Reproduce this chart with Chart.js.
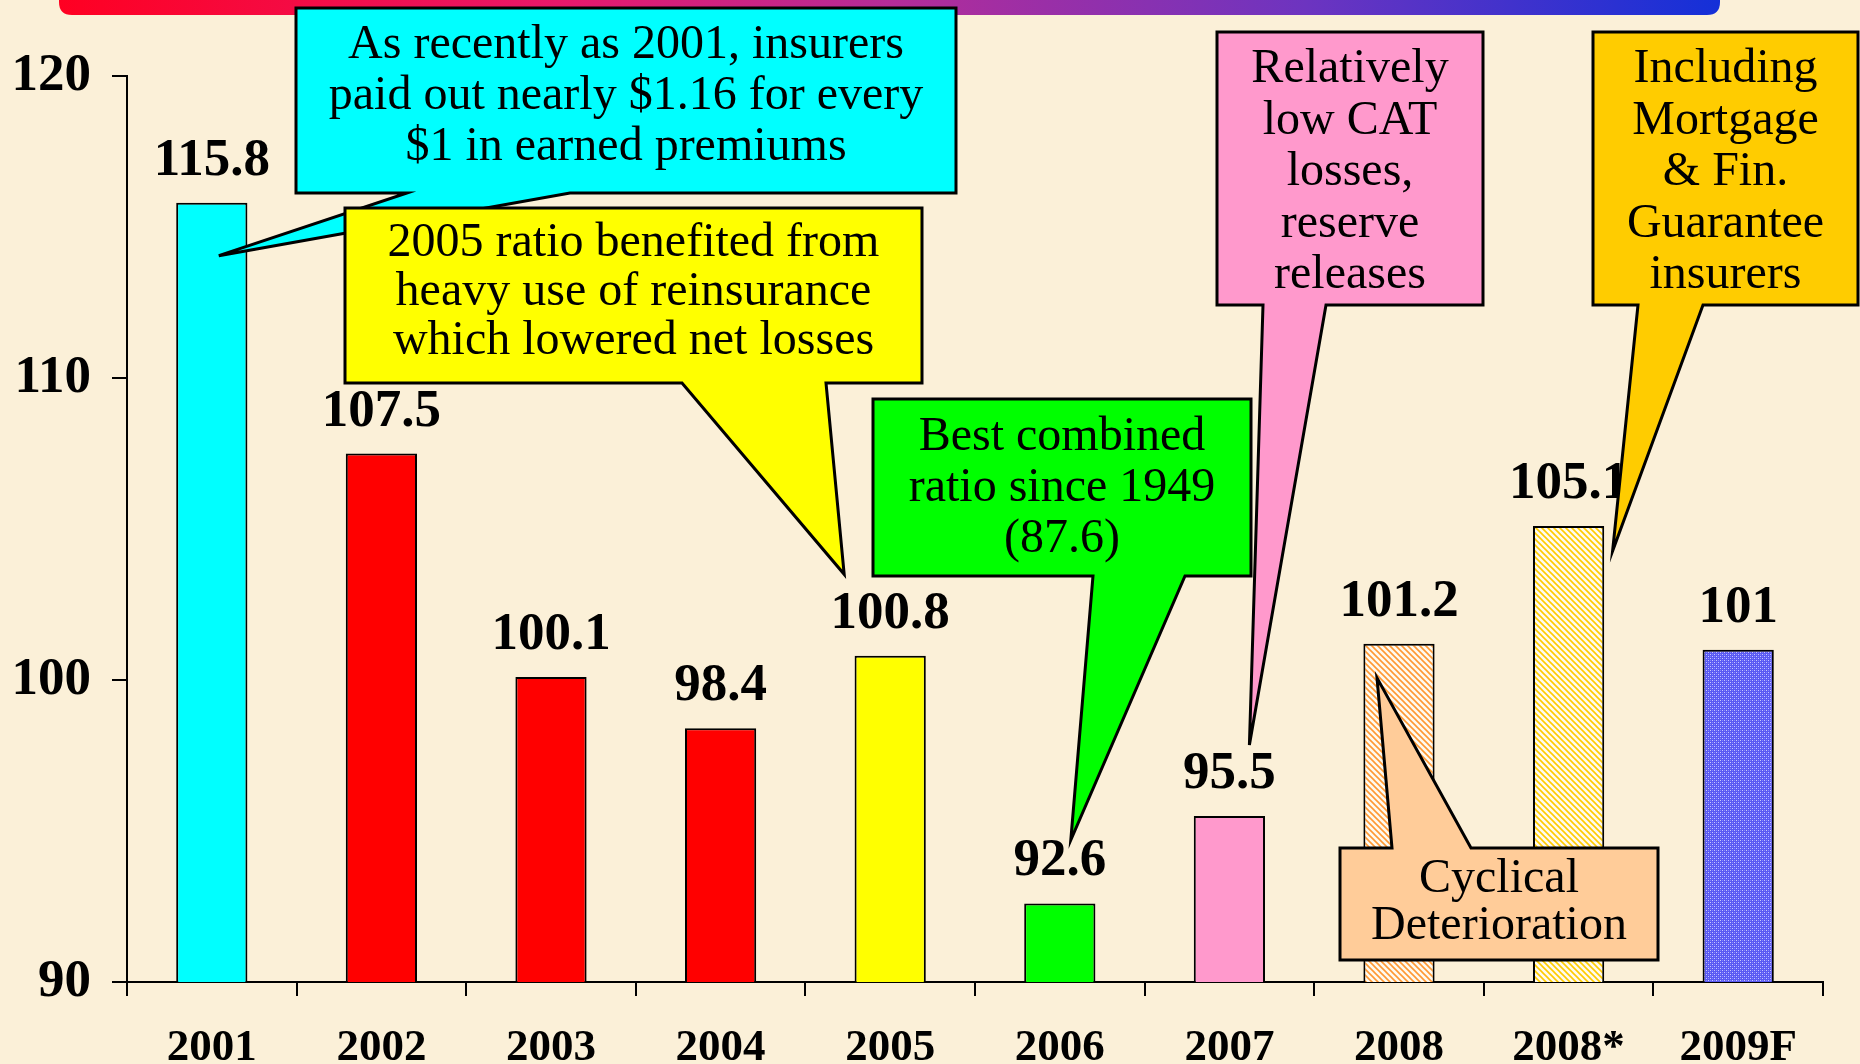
<!DOCTYPE html>
<html>
<head>
<meta charset="utf-8">
<title>Combined Ratio 2001-2009F</title>
<script src="https://cdn.jsdelivr.net/npm/chart.js@4.4.1/dist/chart.umd.min.js"></script>
<style>
  html, body { margin: 0; padding: 0; background: #fbf0d8; }
  canvas { display: block; }
</style>
</head>
<body>
<canvas id="myChart" width="1860" height="1064"></canvas>
<script>
// years along the x axis
var years = ["2001", "2002", "2003", "2004", "2005", "2006", "2007", "2008", "2008*", "2009F"];
// combined ratio per year
var ratios = [115.8, 107.5, 100.1, 98.4, 100.8, 92.6, 95.5, 101.2, 105.1, 101];
// y axis tick values
var yTicks = [90, 100, 110, 120];

// callout texts
var noteCyan = ["As recently as 2001, insurers", "paid out nearly $1.16 for every", "$1 in earned premiums"];
var noteYellow = ["2005 ratio benefited from", "heavy use of reinsurance", "which lowered net losses"];
var noteGreen = ["Best combined", "ratio since 1949", "(87.6)"];
var notePink = ["Relatively", "low CAT", "losses,", "reserve", "releases"];
var noteGold = ["Including", "Mortgage", "& Fin.", "Guarantee", "insurers"];
var notePeach = ["Cyclical", "Deterioration"];

var serif = "'Liberation Serif', 'Times New Roman', serif";

// diagonal stripe pattern for the 2008 bars
function stripes(color) {
    var c = document.createElement("canvas");
    c.width = 6;
    c.height = 6;
    var g = c.getContext("2d");
    g.fillStyle = "#fffaf0";
    g.fillRect(0, 0, 6, 6);
    g.strokeStyle = color;
    g.lineWidth = 1.6;
    g.beginPath();
    g.moveTo(-1, -1); g.lineTo(7, 7);
    g.moveTo(-1, 5); g.lineTo(1, 7);
    g.moveTo(5, -1); g.lineTo(7, 1);
    g.stroke();
    return g.createPattern(c, "repeat");
}

// fine checker pattern for the 2009F bar
function dots() {
    var c = document.createElement("canvas");
    c.width = 4;
    c.height = 4;
    var g = c.getContext("2d");
    g.fillStyle = "#5a5af2";
    g.fillRect(0, 0, 4, 4);
    g.fillStyle = "#c8c8ff";
    g.fillRect(0, 0, 1, 1);
    g.fillRect(2, 2, 1, 1);
    g.fillStyle = "#8585ff";
    g.fillRect(2, 0, 1, 1);
    g.fillRect(0, 2, 1, 1);
    return g.createPattern(c, "repeat");
}

var barColors = ["#00ffff", "#ff0000", "#ff0000", "#ff0000", "#ffff00", "#00ff00", "#ff99cc",
    stripes("#ff9933"), stripes("#ffcc00"), dots()];

// callout boxes (pixels) with tips anchored to a category + value
var callouts = [
    { lines: noteCyan, fill: "#00ffff", box: [296, 8, 660, 185], base: [407, 570], side: "bottom",
      tip: { i: 0, dx: 7, v: 114.05 }, first: 50, gap: 51 },
    { lines: noteYellow, fill: "#ffff00", box: [345, 208, 577, 175], base: [682, 826], side: "bottom",
      tip: { i: 4, dx: -46, v: 103.5 }, first: 48, gap: 49 },
    { lines: noteGreen, fill: "#00ff00", box: [873, 399, 378, 177], base: [1093, 1185], side: "bottom",
      tip: { i: 5, dx: 11, v: 94.7 }, first: 51, gap: 51 },
    { lines: notePink, fill: "#ff99cc", box: [1217, 32, 266, 273], base: [1263, 1326], side: "bottom",
      tip: { i: 6, dx: 20, v: 97.85 }, first: 50, gap: 51.5 },
    { lines: noteGold, fill: "#ffcc00", box: [1593, 32, 265, 273], base: [1638, 1703], side: "bottom",
      tip: { i: 8, dx: 44, v: 104.27 }, first: 50, gap: 51.5 },
    { lines: notePeach, fill: "#ffcc99", box: [1340, 848, 318, 112], base: [1392, 1471], side: "top",
      tip: { i: 7, dx: -22, v: 100.07 }, first: 44, gap: 47 }
];

// background + the coloured strip at the top
var backdrop = {
    id: "backdrop",
    beforeDraw: function(chart) {
        var ctx = chart.ctx;
        ctx.save();
        ctx.fillStyle = "#fbf0d8";
        ctx.fillRect(0, 0, chart.width, chart.height);
        var grad = ctx.createLinearGradient(59, 0, 1720, 0);
        grad.addColorStop(0, "#ff0022");
        grad.addColorStop(0.3, "#e8186a");
        grad.addColorStop(0.5, "#b52c98");
        grad.addColorStop(0.75, "#6d34c0");
        grad.addColorStop(1, "#1430d8");
        ctx.fillStyle = grad;
        ctx.beginPath();
        ctx.moveTo(59, 0);
        ctx.lineTo(1720, 0);
        ctx.lineTo(1720, 2);
        ctx.quadraticCurveTo(1720, 15, 1707, 15);
        ctx.lineTo(72, 15);
        ctx.quadraticCurveTo(59, 15, 59, 2);
        ctx.closePath();
        ctx.fill();
        ctx.restore();
    }
};

// value above every bar
var valueLabels = {
    id: "valueLabels",
    afterDatasetsDraw: function(chart) {
        var ctx = chart.ctx;
        var meta = chart.getDatasetMeta(0);
        ctx.save();
        ctx.font = "bold 53px " + serif;
        ctx.fillStyle = "#000";
        ctx.textAlign = "center";
        ctx.textBaseline = "alphabetic";
        meta.data.forEach(function(bar, i) {
            ctx.fillText(String(ratios[i]), bar.x, bar.y - 28);
        });
        ctx.restore();
    }
};

// speech-bubble callouts
var notes = {
    id: "notes",
    afterDraw: function(chart) {
        var ctx = chart.ctx;
        var xs = chart.scales.x;
        var ys = chart.scales.y;
        ctx.save();
        callouts.forEach(function(c) {
            var x = c.box[0], y = c.box[1], w = c.box[2], h = c.box[3];
            var tx = xs.getPixelForValue(c.tip.i) + c.tip.dx;
            var ty = ys.getPixelForValue(c.tip.v);
            ctx.beginPath();
            if (c.side === "bottom") {
                ctx.moveTo(x, y);
                ctx.lineTo(x + w, y);
                ctx.lineTo(x + w, y + h);
                ctx.lineTo(c.base[1], y + h);
                ctx.lineTo(tx, ty);
                ctx.lineTo(c.base[0], y + h);
                ctx.lineTo(x, y + h);
            } else {
                ctx.moveTo(x, y);
                ctx.lineTo(c.base[0], y);
                ctx.lineTo(tx, ty);
                ctx.lineTo(c.base[1], y);
                ctx.lineTo(x + w, y);
                ctx.lineTo(x + w, y + h);
                ctx.lineTo(x, y + h);
            }
            ctx.closePath();
            ctx.fillStyle = c.fill;
            ctx.fill();
            ctx.lineWidth = 3;
            ctx.lineJoin = "miter";
            ctx.strokeStyle = "#000";
            ctx.stroke();

            ctx.fillStyle = "#000";
            ctx.font = "48px " + serif;
            ctx.textAlign = "center";
            ctx.textBaseline = "alphabetic";
            c.lines.forEach(function(line, k) {
                ctx.fillText(line, x + w / 2, y + c.first + k * c.gap);
            });
        });
        ctx.restore();
    }
};

var ctx = document.getElementById("myChart").getContext("2d");
var chart = new Chart(ctx, {
    type: "bar",
    data: {
        labels: years,
        datasets: [{
            label: "Combined ratio",
            data: ratios,
            backgroundColor: barColors,
            borderColor: "#000",
            borderWidth: 2,
            borderSkipped: false,
            barPercentage: 0.42,
            categoryPercentage: 1
        }]
    },
    options: {
        responsive: false,
        animation: false,
        devicePixelRatio: 1,
        layout: { padding: { top: 76, right: 37, left: 0, bottom: 0 } },
        plugins: {
            legend: { display: false },
            tooltip: { enabled: false }
        },
        scales: {
            x: {
                grid: { offset: true, drawOnChartArea: false, drawTicks: true, tickLength: 14, color: "#000", lineWidth: 2 },
                border: { display: true, color: "#000", width: 2 },
                ticks: { color: "#000", font: { family: serif, size: 45, weight: "bold" }, padding: 25, maxRotation: 0, autoSkip: false },
                afterFit: function(scale) { scale.height = 82; }
            },
            y: {
                min: 90,
                max: 120,
                grid: { drawOnChartArea: false, drawTicks: true, tickLength: 15, color: "#000", lineWidth: 2 },
                border: { display: true, color: "#000", width: 2 },
                ticks: { color: "#000", font: { family: serif, size: 53, weight: "bold" }, padding: 21 },
                afterBuildTicks: function(scale) {
                    scale.ticks = yTicks.map(function(v) { return { value: v }; });
                },
                afterFit: function(scale) { scale.width = 127; }
            }
        }
    },
    plugins: [backdrop, valueLabels, notes]
});
</script>
</body>
</html>
